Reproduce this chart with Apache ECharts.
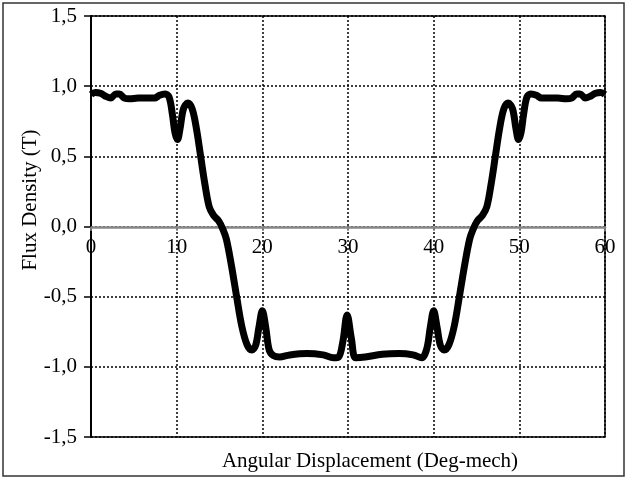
<!DOCTYPE html>
<html>
<head>
<meta charset="utf-8">
<script src="https://cdn.jsdelivr.net/npm/echarts@6/dist/echarts.min.js"></script>
<style>
  html, body { margin: 0; padding: 0; background: #fff; }
  #chart { width: 628px; height: 480px; }
</style>
</head>
<body>
<div id="chart"></div>
<script>
// angular position (deg-mech)
const angles = [
  0, 0.5, 1.1, 1.8, 2.3, 2.9, 3.3, 3.9, 4.5, 5.5, 6.5, 7.4, 8.0, 8.6, 9.1, 9.5, 9.8,
  10.1, 10.4, 10.8, 11.3, 11.8, 12.3, 12.8, 13.3, 13.8, 14.3, 14.9, 15.4, 15.8,
  16.4, 17.0, 17.6, 18.2, 18.75, 19.2, 19.6, 20.0, 20.4, 20.8, 21.3, 22.0, 23.2,
  25.2, 27.1, 28.3, 28.9, 29.4, 29.9, 30.4, 30.9, 32.0, 34.0, 36.0, 37.6, 38.6,
  39.2, 39.6, 40.0, 40.4, 40.8, 41.25, 41.8, 42.4, 43.0, 43.6, 44.2, 44.6, 45.1,
  45.7, 46.2, 46.7, 47.2, 47.7, 48.2, 48.7, 49.2, 49.6, 49.9, 50.2, 50.5, 50.9,
  51.4, 52.0, 52.6, 53.5, 54.5, 55.5, 56.1, 56.7, 57.1, 57.7, 58.2, 58.9, 59.5, 60
]
// flux density (T)
const flux = [
  0.94, 0.955, 0.95, 0.925, 0.915, 0.945, 0.945, 0.915, 0.91, 0.915, 0.915, 0.915, 0.935, 0.945, 0.925, 0.8, 0.67,
  0.62, 0.7, 0.84, 0.88, 0.84, 0.70, 0.50, 0.30, 0.14, 0.08, 0.04, -0.02, -0.09,
  -0.28, -0.50, -0.71, -0.84, -0.88, -0.85, -0.72, -0.60, -0.72, -0.88, -0.92, -0.93, -0.915,
  -0.905, -0.915, -0.935, -0.93, -0.82, -0.63, -0.80, -0.935, -0.93, -0.91, -0.905, -0.915, -0.935,
  -0.87, -0.72, -0.60, -0.72, -0.85, -0.88, -0.84, -0.71, -0.50, -0.28, -0.09, -0.02, 0.04,
  0.08, 0.14, 0.30, 0.50, 0.70, 0.84, 0.88, 0.84, 0.70, 0.62, 0.67, 0.8, 0.925,
  0.945, 0.935, 0.915, 0.915, 0.915, 0.91, 0.915, 0.945, 0.945, 0.915, 0.925, 0.95, 0.955, 0.94
]
const xTicks = [0, 10, 20, 30, 40, 50, 60]
const yTicks = [-1.5, -1.0, -0.5, 0.0, 0.5, 1.0, 1.5]

const font = '"Liberation Serif", "Times New Roman", serif'
const chart = echarts.init(document.getElementById('chart'))

const option = {
  animation: false,
  backgroundColor: '#fff',
  grid: {
    left: 91,
    right: 23,
    top: 16,
    bottom: 43,
    show: true,
    borderColor: '#000',
    borderWidth: 1.5,
  },
  xAxis: {
    type: 'value',
    min: xTicks[0],
    max: xTicks[xTicks.length - 1],
    interval: 10,
    offset: -210, // axis crosses at y = 0
    axisLine: { onZero: false, lineStyle: { color: '#888', width: 2.5 } },
    axisTick: { show: true, length: 4, lineStyle: { color: '#888', width: 1.5 } },
    axisLabel: { color: '#000', fontFamily: font, fontSize: 21, margin: 10 },
    splitLine: { show: true, lineStyle: { color: '#000', type: [2, 2], width: 1.5 } },
  },
  yAxis: {
    type: 'value',
    min: yTicks[0],
    max: yTicks[yTicks.length - 1],
    interval: 0.5,
    axisLine: { onZero: false, lineStyle: { color: '#000', width: 2 } },
    axisTick: { show: true, length: 7, lineStyle: { color: '#000', width: 1.5 } },
    axisLabel: {
      color: '#000', fontFamily: font, fontSize: 21, margin: 14,
      formatter: (v) => v.toFixed(1).replace('.', ','),
    },
    splitLine: { show: true, lineStyle: { color: '#000', type: [2, 2], width: 1.5 } },
  },
  series: [{
    type: 'line',
    data: angles.map((a, i) => [a, flux[i]]),
    smooth: 0.35,
    showSymbol: false,
    lineStyle: { color: '#000', width: 7 },
  }],
  graphic: [
    {
      type: 'rect',
      shape: { x: 3, y: 3, width: 621, height: 473 },
      style: { fill: null, stroke: '#333', lineWidth: 1.5 },
      z: 10,
    },
    {
      type: 'text',
      x: 30, y: 200,
      rotation: Math.PI / 2,
      style: { text: 'Flux Density (T)', font: '21px ' + font, fill: '#000', align: 'center', verticalAlign: 'middle' },
    },
    {
      type: 'text',
      x: 370, y: 461,
      style: { text: 'Angular Displacement (Deg-mech)', font: '21px ' + font, fill: '#000', align: 'center', verticalAlign: 'middle' },
    },
  ],
}
chart.setOption(option)
</script>
</body>
</html>
